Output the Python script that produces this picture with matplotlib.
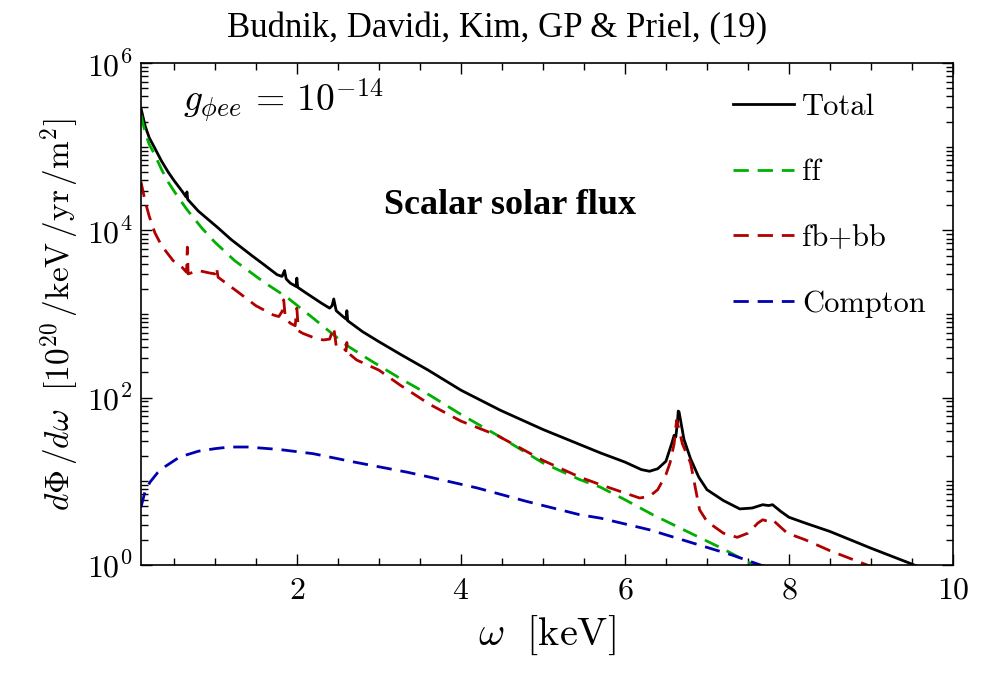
import numpy as np
import matplotlib
matplotlib.use("Agg")
import matplotlib.pyplot as plt
from matplotlib.ticker import MultipleLocator, NullFormatter, FixedLocator

plt.rcParams['mathtext.fontset'] = 'cm'
plt.rcParams['font.family'] = ['cmr10', 'DejaVu Serif']
plt.rcParams['axes.formatter.use_mathtext'] = True

# Total flux (log10 values)
total_x = [0.1, 0.15, 0.2, 0.27, 0.35, 0.43, 0.5, 0.6, 0.65, 0.66, 0.67, 0.8, 1.04, 1.2, 1.45,
           1.6, 1.76, 1.82, 1.85, 1.87, 1.92, 1.99, 2.0, 2.01, 2.1, 2.3, 2.4, 2.43, 2.45,
           2.48, 2.55, 2.6, 2.61, 2.62, 2.8, 3.0, 3.26, 3.6, 4.0, 4.48, 5.0, 5.7, 6.0,
           6.2, 6.3, 6.4, 6.5, 6.57, 6.6, 6.62, 6.64, 6.65, 6.66, 6.68, 6.72, 6.8, 6.9,
           7.0, 7.2, 7.4, 7.55, 7.68, 7.75, 7.8, 7.9, 8.0, 8.2, 8.5, 9.0, 9.5, 10.0]
total_log = [5.46, 5.25, 5.11, 4.98, 4.83, 4.7, 4.6, 4.47, 4.4, 4.46, 4.37, 4.23, 4.03, 3.89, 3.7,
             3.59, 3.47, 3.45, 3.52, 3.42, 3.37, 3.33, 3.43, 3.32, 3.26, 3.13, 3.07, 3.1, 3.18,
             3.04, 2.98, 2.94, 3.04, 2.92, 2.79, 2.67, 2.52, 2.33, 2.09, 1.85, 1.62, 1.34, 1.23,
             1.14, 1.12, 1.15, 1.24, 1.45, 1.55, 1.53, 1.7, 1.84, 1.83, 1.72, 1.5, 1.27, 1.05,
             0.9, 0.77, 0.67, 0.68, 0.72, 0.71, 0.72, 0.64, 0.57, 0.5, 0.4, 0.2, 0.01, -0.2]

# ff
ff_x = [0.1, 0.15, 0.2, 0.27, 0.35, 0.43, 0.55, 0.66, 0.84, 1.0, 1.24, 1.6, 1.88, 2.2, 2.6,
        2.89, 3.26, 3.62, 4.0, 4.48, 5.0, 5.45, 5.7, 6.0, 6.34, 6.8, 7.2, 7.49, 7.7]
ff_log = [5.38, 5.17, 5.03, 4.9, 4.73, 4.58, 4.4, 4.25, 4.03, 3.86, 3.64, 3.38, 3.2, 2.95, 2.63,
          2.45, 2.23, 2.03, 1.8, 1.53, 1.22, 1.02, 0.93, 0.78, 0.6, 0.38, 0.19, 0.04, -0.06]

# fb+bb
fb_x = [0.1, 0.15, 0.2, 0.27, 0.35, 0.49, 0.6, 0.655, 0.665, 0.675, 0.8, 0.94, 1.0, 1.02,
        1.04, 1.15, 1.3, 1.5, 1.71, 1.78, 1.82, 1.84, 1.86, 1.92, 1.98, 2.0, 2.02, 2.07,
        2.2, 2.32, 2.4, 2.45, 2.48, 2.56, 2.6, 2.61, 2.62, 2.73, 3.0, 3.26, 3.62, 4.0, 4.44,
        5.0, 5.45, 5.7, 6.0, 6.18, 6.3, 6.4, 6.5, 6.55, 6.6, 6.63, 6.66, 6.7, 6.8, 6.91,
        7.0, 7.2, 7.37, 7.5, 7.62, 7.68, 7.75, 7.8, 7.9, 7.98, 8.2, 8.5, 8.95, 9.2]
fb_log = [4.58, 4.35, 4.17, 3.97, 3.82, 3.64, 3.56, 3.5, 3.8, 3.48, 3.52, 3.49, 3.48, 3.56,
          3.44, 3.36, 3.25, 3.1, 2.99, 2.97, 3.03, 3.17, 2.95, 2.89, 2.86, 3.07, 2.8, 2.77,
          2.72, 2.69, 2.7, 2.84, 2.62, 2.6, 2.56, 2.66, 2.54, 2.45, 2.33, 2.15, 1.92, 1.72, 1.55,
          1.25, 1.05, 0.96, 0.86, 0.8, 0.82, 0.9, 1.08, 1.22, 1.45, 1.73, 1.62, 1.45, 1.22, 0.66,
          0.52, 0.38, 0.33, 0.38, 0.5, 0.54, 0.52, 0.54, 0.45, 0.38, 0.3, 0.17, 0.0, -0.12]

# Compton
co_x = [0.1, 0.15, 0.21, 0.3, 0.4, 0.57, 0.8, 1.0, 1.18, 1.4, 1.79, 2.2, 2.7, 3.34, 3.62,
        4.2, 4.8, 5.45, 5.7, 6.3, 6.9, 7.3, 7.65, 7.8]
co_log = [0.69, 0.88, 0.99, 1.1, 1.18, 1.29, 1.36, 1.39, 1.41, 1.41, 1.38, 1.33, 1.23, 1.11, 1.05,
          0.92, 0.76, 0.6, 0.56, 0.42, 0.24, 0.12, 0.0, -0.05]

fig = plt.figure(figsize=(9.95, 6.79), dpi=100)
ax = fig.add_axes([0.1417, 0.168, 0.8161, 0.739])

dash = (5.5, 3.2)
ax.plot(total_x, 10 ** np.array(total_log), color='black', lw=2.0, label='Total')
ax.plot(ff_x, 10 ** np.array(ff_log), color='#00b000', lw=2.0, dashes=dash, label='ff')
ax.plot(fb_x, 10 ** np.array(fb_log), color='#b00000', lw=2.0, dashes=dash, label='fb+bb')
ax.plot(co_x, 10 ** np.array(co_log), color='#0000b0', lw=2.0, dashes=dash, label='Compton')

ax.set_yscale('log')
ax.set_xlim(0.1, 10)
ax.set_ylim(1, 1e6)
ax.xaxis.set_major_locator(FixedLocator([2, 4, 6, 8, 10]))
ax.xaxis.set_minor_locator(MultipleLocator(0.5))
ax.yaxis.set_major_locator(FixedLocator([1, 1e2, 1e4, 1e6]))
ax.yaxis.set_minor_locator(FixedLocator(
    [m * 10 ** d for d in range(0, 6) for m in range(2, 10)] + [10, 1e3, 1e5]))
ax.yaxis.set_minor_formatter(NullFormatter())
ax.set_yticklabels([r'$10^{0}$', r'$10^{2}$', r'$10^{4}$', r'$10^{6}$'])
ax.set_xticklabels([r'$2$', r'$4$', r'$6$', r'$8$', r'$10$'])

ax.tick_params(which='both', direction='in', top=True, right=True, labelsize=23, width=1)
ax.tick_params(which='major', length=8)
ax.tick_params(which='minor', length=5)
ax.tick_params(axis='x', which='major', pad=9)
ax.tick_params(axis='y', which='major', pad=6)
for s in ax.spines.values():
    s.set_linewidth(1.2)

ax.set_xlabel(r'$\omega\ \ [\mathrm{keV}]$', fontsize=29, labelpad=6)
ax.set_ylabel(r'$d\Phi\,/d\omega\ \ [10^{20}\,/\mathrm{keV}\,/\mathrm{yr}\,/\mathrm{m}^2]$',
              fontsize=24, labelpad=4)

ax.text(0.052, 0.925, r'$g_{\phi ee}\, =\, 10^{-14}$', transform=ax.transAxes, fontsize=27,
        va='center')
ax.text(0.455, 0.717, 'Scalar solar flux', transform=ax.transAxes, fontsize=26,
        fontweight='bold', family='Liberation Serif', ha='center', va='center')

fig.text(0.5, 0.958, 'Budnik, Davidi, Kim, GP & Priel, (19)', ha='center', va='center',
         fontsize=25, family='Liberation Serif')

leg = ax.legend(loc='upper right', bbox_to_anchor=(1.0, 0.995), frameon=False, fontsize=22,
                handlelength=2.0, handletextpad=0.25, labelspacing=1.25)

fig.savefig('out.png', dpi=100)
